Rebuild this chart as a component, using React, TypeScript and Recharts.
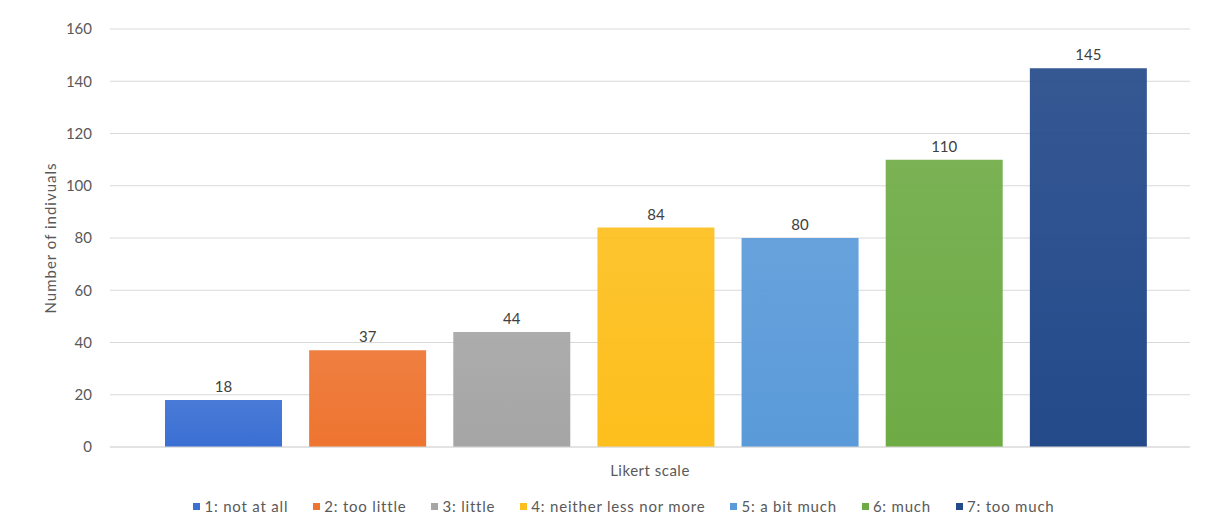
import React from "react";
import { BarChart, Bar, XAxis, YAxis, CartesianGrid, Legend, LabelList, Cell } from "recharts";

const categories = ["1: not at all", "2: too little", "3: little", "4: neither less nor more", "5: a bit much", "6: much", "7: too much"];
const counts = [18, 37, 44, 84, 80, 110, 145];
const colors = ["#3a6fd3", "#ee7430", "#a5a5a5", "#fdbf1d", "#5a9ad9", "#6eab45", "#244a8a"];
const yTicks = [0, 20, 40, 60, 80, 100, 120, 140, 160];

const data = categories.map((c, i) => ({ name: c, value: counts[i] }));

const FONT = "Lato, 'Liberation Sans', sans-serif";
const TEXT = "#595959";

const renderLegend = () => (
  <div
    style={{
      display: "flex",
      justifyContent: "center",
      alignItems: "center",
      height: 24,
      fontFamily: FONT,
      fontSize: 15,
      letterSpacing: 0.8,
      color: TEXT,
      paddingLeft: 58,
    }}
  >
    {categories.map((c, i) => (
      <div key={c} style={{ display: "flex", alignItems: "center", marginRight: i < categories.length - 1 ? 25 : 0 }}>
        <span style={{ display: "inline-block", width: 7, height: 7, background: colors[i], marginRight: 4 }} />
        <span>{c}</span>
      </div>
    ))}
  </div>
);

export default function App() {
  return (
    <div style={{ position: "absolute", left: 0, top: 0, width: 1211, height: 518, background: "#fff" }}>
      <BarChart
        width={1211}
        height={518}
        data={data}
        margin={{ top: 29, right: 21, left: 0, bottom: 0 }}
        barSize={117}
      >
        <defs>
          {colors.map((col, i) => (
            <linearGradient key={i} id={`g${i}`} x1="0" y1="0" x2="0" y2="1">
              <stop offset="0%" stopColor={col} stopOpacity={0.92} />
              <stop offset="100%" stopColor={col} stopOpacity={1} />
            </linearGradient>
          ))}
        </defs>
        <CartesianGrid vertical={false} stroke="#d9d9d9" />
        <XAxis
          dataKey="name"
          tick={false}
          tickLine={false}
          axisLine={{ stroke: "#d9d9d9" }}
          height={47}
          padding={{ left: 41, right: 30 }}
          label={{ value: "Likert scale", position: "insideBottom", offset: 18, fill: TEXT, fontSize: 15, fontFamily: FONT, style: { letterSpacing: 0.5 } }}
        />
        <YAxis
          domain={[0, 160]}
          ticks={yTicks}
          width={110}
          tickLine={false}
          axisLine={false}
          tickSize={0}
          tickMargin={18}
          tick={{ fill: TEXT, fontSize: 15, fontFamily: FONT }}
          label={{
            value: "Number of indivuals",
            angle: -90,
            position: "insideLeft",
            offset: 51,
            fill: TEXT,
            fontSize: 15,
            fontFamily: FONT,
            style: { textAnchor: "middle", letterSpacing: 1 },
          }}
        />
        <Legend verticalAlign="bottom" content={renderLegend} />
        <Bar dataKey="value" isAnimationActive={false}>
          {data.map((d, i) => (
            <Cell key={d.name} fill={`url(#g${i})`} />
          ))}
          <LabelList dataKey="value" position="top" offset={8} fill="#404040" fontSize={15} fontFamily={FONT} />
        </Bar>
      </BarChart>
    </div>
  );
}
